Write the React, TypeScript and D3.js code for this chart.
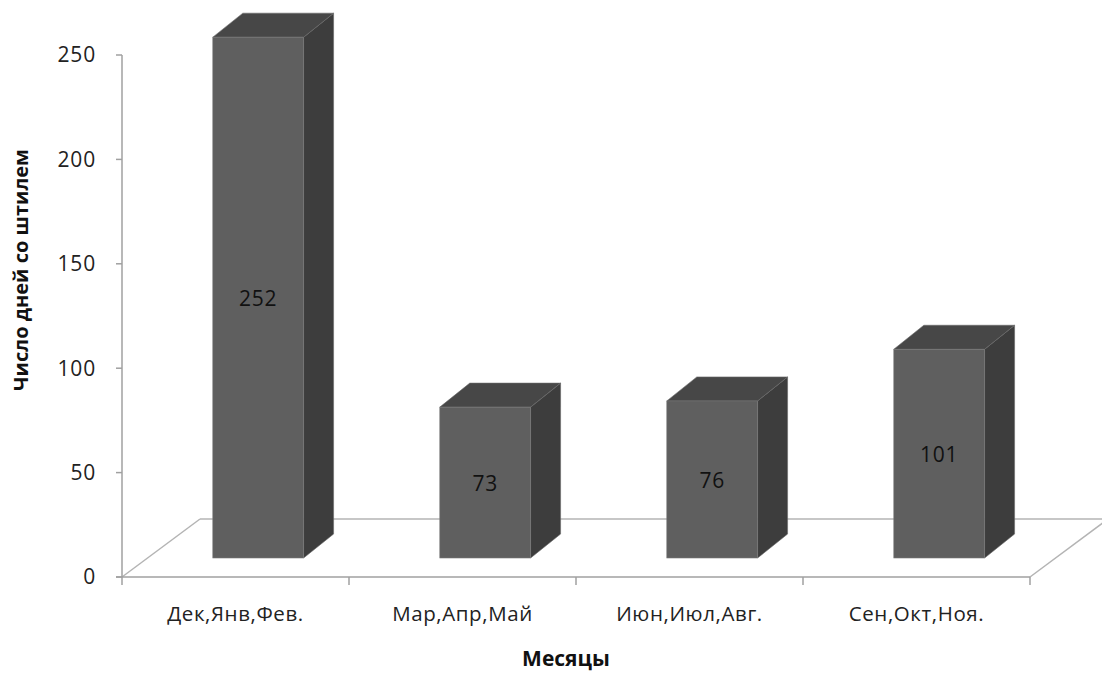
import React from "react";
import * as d3 from "d3";

const categories = ["Дек,Янв,Фев.", "Мар,Апр,Май", "Июн,Июл,Авг.", "Сен,Окт,Ноя."];
const values = [252, 73, 76, 101];
const yTicks = [0, 50, 100, 150, 200, 250];
const yTitle = "Число дней со штилем";
const xTitle = "Месяцы";

const W = 1102;
const H = 673;

export default function App() {
  const x = d3.scaleBand<string>().domain(categories).range([122, 1030]).padding(0);
  const yAxis = d3.scaleLinear().domain([0, 250]).range([577, 55]);
  const yBar = d3.scaleLinear().domain([0, 250]).range([558, 41.3]);
  const step = x.step();
  const depthX = 30;
  const depthY = -24;
  const floorDX = 78;
  const floorDY = -58;
  const x0 = 122, x1 = 1030, yf = 577;
  const font = "'Open Sans', 'Liberation Sans', sans-serif";

  return (
    <svg width={W} height={H} style={{ position: "absolute", left: 0, top: 0, background: "#fff" }}>
      {/* floor */}
      <g stroke="#b4b4b4" strokeWidth={1.5} fill="none">
        <line x1={x0 + floorDX} y1={yf + floorDY} x2={x1 + floorDX} y2={yf + floorDY} />
        <line x1={x0} y1={yf} x2={x0 + floorDX} y2={yf + floorDY} />
        <line x1={x1} y1={yf} x2={x1 + floorDX} y2={yf + floorDY} />
      </g>
      {/* axes */}
      <g stroke="#a0a0a0" strokeWidth={1.5}>
        <line x1={x0} y1={yAxis(250)} x2={x0} y2={yAxis(0)} />
        <line x1={x0 - 6} y1={yf} x2={x1} y2={yf} />
        {yTicks.map((t) => (
          <line key={t} x1={x0 - 6} x2={x0} y1={yAxis(t)} y2={yAxis(t)} />
        ))}
        {[...categories.map((c) => x(c) as number), x1].map((px, i) => (
          <line key={i} x1={px} x2={px} y1={yf} y2={yf + 8} />
        ))}
      </g>
      {/* y tick labels */}
      <g fontFamily={font} fontSize={21} fill="#222" textAnchor="end" letterSpacing={0.8}>
        {yTicks.map((t) => (
          <text key={t} x={96} y={yAxis(t)} dy="0.35em">{t}</text>
        ))}
      </g>
      {/* bars */}
      {categories.map((c, i) => {
        const bx = (x(c) as number) + step * 0.4;
        const bw = step * 0.4;
        const top = yBar(values[i]);
        const bottom = yBar(0);
        const side = `M${bx + bw},${top} L${bx + bw + depthX},${top + depthY} L${bx + bw + depthX},${bottom + depthY} L${bx + bw},${bottom} Z`;
        const lid = `M${bx},${top} L${bx + depthX},${top + depthY} L${bx + bw + depthX},${top + depthY} L${bx + bw},${top} Z`;
        return (
          <g key={c}>
            <path d={side} fill="#3d3d3d" stroke="#6a6a6a" strokeWidth={0.6} />
            <path d={lid} fill="#474747" stroke="#6a6a6a" strokeWidth={0.6} />
            <rect x={bx} y={top} width={bw} height={bottom - top} fill="#5f5f5f" stroke="#7a7a7a" strokeWidth={0.6} />
            <text x={bx + bw / 2} y={(top + bottom) / 2} dy="0.4em" textAnchor="middle" fontFamily={font} fontSize={21} letterSpacing={0.8} fill="#111">
              {values[i]}
            </text>
          </g>
        );
      })}
      {/* category labels */}
      <g fontFamily={font} fontSize={20.5} fill="#222" textAnchor="middle" letterSpacing={0.6}>
        {categories.map((c) => (
          <text key={c} x={(x(c) as number) + step / 2} y={621}>{c}</text>
        ))}
      </g>
      <text x={566} y={666} textAnchor="middle" fontFamily={font} fontSize={21} fontWeight="bold" fill="#111">{xTitle}</text>
      <text transform="translate(28,270) rotate(-90)" textAnchor="middle" fontFamily={font} fontSize={20} fontWeight="bold" fill="#111">{yTitle}</text>
    </svg>
  );
}
